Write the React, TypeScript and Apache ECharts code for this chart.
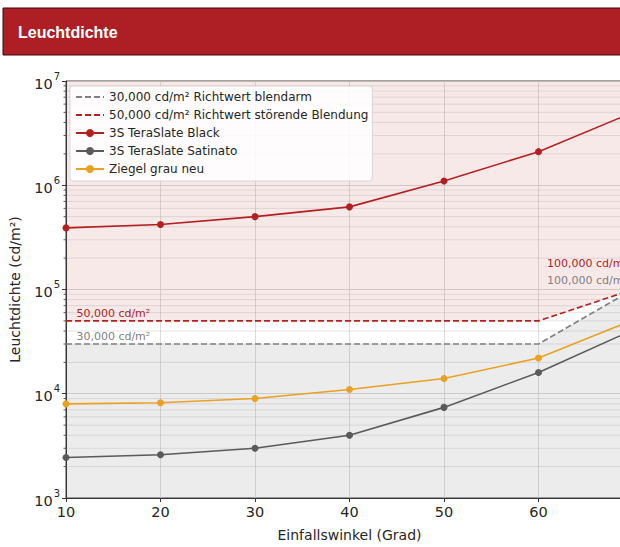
import React, { useEffect, useRef } from "react";
import * as echarts from "echarts";

const angles = [10, 20, 30, 40, 50, 60, 70];
const blackValues = [390000, 420000, 500000, 620000, 1100000, 2100000, 5000000];
const satinatoValues = [2450, 2600, 3000, 4000, 7400, 16000, 41000];
const ziegelValues = [8000, 8200, 9000, 11000, 14000, 22000, 51000];

const limitAngles = [10, 60, 70];
const blendarmValues = [30000, 30000, 100000];
const stoerendValues = [50000, 50000, 100000];

const seriesNames = [
  "30,000 cd/m² Richtwert blendarm",
  "50,000 cd/m² Richtwert störende Blendung",
  "3S TeraSlate Black",
  "3S TeraSlate Satinato",
  "Ziegel grau neu",
];

const xTicks = [10, 20, 30, 40, 50, 60, 70];
const yMin = 1000;
const yMax = 10000000;
const minorMultipliers = [2, 3, 4, 5, 6, 7, 8, 9];
const decades = [1000, 10000, 100000, 1000000];

const annotationTexts = ["50,000 cd/m²", "30,000 cd/m²", "100,000 cd/m²", "100,000 cd/m²"];
const annotationX = [11.1, 11.1, 60.9, 60.9];
const annotationY = [59500, 35200, 176000, 122000];

const RED = "#b3201f";
const GREY_DASH = "#808080";
const GREY_LINE = "#5a5a5a";
const ORANGE = "#eaa020";
const TEXT = "#262626";
const FONT = "DejaVu Sans";

export default function App() {
  const ref = useRef<HTMLDivElement>(null);

  useEffect(() => {
    if (!ref.current) return;
    const chart = echarts.init(ref.current, undefined, { renderer: "svg" });

    const minorValues: number[] = [];
    decades.forEach((d) => minorMultipliers.forEach((m) => minorValues.push(d * m)));

    const pinkPoly: number[][] = limitAngles.map((a, i) => [a, stoerendValues[i]]);
    pinkPoly.push([limitAngles[limitAngles.length - 1], yMax], [limitAngles[0], yMax]);
    const greyPoly: number[][] = [[limitAngles[0], yMin]].concat(
      limitAngles.map((a, i) => [a, blendarmValues[i]])
    );
    greyPoly.push([limitAngles[limitAngles.length - 1], yMin]);
    const polys = [pinkPoly, greyPoly];
    const polyColors = ["rgba(190,40,40,0.10)", "rgba(128,128,128,0.15)"];
    const annColors = [RED, "#808080", RED, "#808080"];

    const hiddenSymbol = { color: "rgba(0,0,0,0)", borderColor: "rgba(0,0,0,0)", borderWidth: 0 };

    const option: any = {
      animation: false,
      textStyle: { fontFamily: FONT },
      graphic: [
        {
          type: "rect",
          shape: { x: 3, y: 8, width: 660, height: 47 },
          style: { fill: "#ad1f24", stroke: "#3c0b0c", lineWidth: 1 },
          z: 10,
        },
        {
          type: "text",
          x: 18,
          y: 32,
          style: {
            text: "Leuchtdichte",
            fill: "#ffffff",
            font: "bold 16px 'Liberation Sans', Arial, sans-serif",
            verticalAlign: "middle",
          },
          z: 11,
        },
      ],
      grid: {
        left: 62,
        right: 7,
        top: 81,
        bottom: 42,
        show: true,
        borderColor: "#444",
        borderWidth: 1,
        backgroundColor: "transparent",
      },
      legend: {
        orient: "vertical",
        left: 70,
        top: 86,
        data: [
          { name: seriesNames[0], itemStyle: hiddenSymbol },
          { name: seriesNames[1], itemStyle: hiddenSymbol },
          { name: seriesNames[2] },
          { name: seriesNames[3] },
          { name: seriesNames[4] },
        ],
        backgroundColor: "rgba(255,255,255,0.85)",
        borderColor: "#d6d6d6",
        borderWidth: 1,
        borderRadius: 3,
        padding: [5, 4, 6, 5],
        itemWidth: 28,
        itemHeight: 10,
        itemGap: 6,
        textStyle: { fontFamily: FONT, fontSize: 12, color: TEXT },
      },
      xAxis: {
        type: "value",
        min: xTicks[0],
        max: xTicks[xTicks.length - 1],
        interval: 10,
        name: "Einfallswinkel (Grad)",
        nameLocation: "middle",
        nameGap: 30,
        nameTextStyle: { fontFamily: FONT, fontSize: 14, color: TEXT },
        axisLine: { show: true, lineStyle: { color: "#333", width: 1 } },
        axisTick: { show: true, inside: false, length: 4, lineStyle: { color: "#333" } },
        axisLabel: { fontFamily: FONT, fontSize: 14.5, color: TEXT, margin: 6, showMaxLabel: false },
        splitLine: { show: true, lineStyle: { color: "#d4d4d4", width: 0.8 } },
      },
      yAxis: {
        type: "log",
        logBase: 10,
        min: yMin,
        max: yMax,
        name: "Leuchtdichte (cd/m²)",
        nameLocation: "middle",
        nameGap: 44,
        nameRotate: 90,
        nameTextStyle: { fontFamily: FONT, fontSize: 14, color: TEXT },
        axisLine: { show: true, lineStyle: { color: "#333", width: 1 } },
        axisTick: { show: true, inside: false, length: 4, lineStyle: { color: "#333" } },
        axisLabel: {
          margin: 6,
          color: TEXT,
          formatter: (v: number) => "{b|10}{s|" + Math.round(Math.log10(v)) + "}",
          rich: {
            b: { fontFamily: FONT, fontSize: 14.5, color: TEXT, verticalAlign: "bottom", lineHeight: 20 },
            s: {
              fontFamily: FONT,
              fontSize: 10,
              color: TEXT,
              verticalAlign: "top",
              lineHeight: 20,
              padding: [0, 0, 10, 1],
            },
          },
        },
        splitLine: { show: true, lineStyle: { color: "#cfcfcf", width: 0.8 } },
      },
      series: [
        {
          type: "custom",
          name: "shading",
          silent: true,
          z: 0,
          clip: true,
          data: polys.map((_, i) => [i]),
          renderItem: (params: any, api: any) => {
            const i = params.dataIndex;
            const pts = polys[i].map((p) => api.coord(p));
            return {
              type: "polygon",
              shape: { points: pts },
              style: { fill: polyColors[i], stroke: "none" },
            };
          },
        },
        {
          type: "custom",
          name: "minorgrid",
          silent: true,
          z: 1,
          clip: false,
          data: minorValues.map((v) => [v]),
          renderItem: (params: any, api: any) => {
            const v = minorValues[params.dataIndex];
            const p0 = api.coord([xTicks[0], v]);
            const p1 = api.coord([xTicks[xTicks.length - 1], v]);
            return {
              type: "group",
              children: [
                {
                  type: "line",
                  shape: { x1: p0[0], y1: p0[1], x2: p1[0], y2: p1[1] },
                  style: { stroke: "rgba(160,160,160,0.35)", lineWidth: 0.8 },
                },
                {
                  type: "line",
                  shape: { x1: p0[0] - 2.5, y1: p0[1], x2: p0[0], y2: p0[1] },
                  style: { stroke: "#333", lineWidth: 0.8 },
                },
              ],
            };
          },
        },
        {
          type: "line",
          name: seriesNames[0],
          data: limitAngles.map((a, i) => [a, blendarmValues[i]]),
          symbol: "none",
          z: 3,
          color: GREY_DASH,
          lineStyle: { color: GREY_DASH, width: 1.6, type: [6, 3] },
        },
        {
          type: "line",
          name: seriesNames[1],
          data: limitAngles.map((a, i) => [a, stoerendValues[i]]),
          symbol: "none",
          z: 3,
          color: RED,
          lineStyle: { color: RED, width: 1.6, type: [6, 3] },
        },
        {
          type: "line",
          name: seriesNames[2],
          data: angles.map((a, i) => [a, blackValues[i]]),
          symbol: "circle",
          symbolSize: 7,
          z: 4,
          color: RED,
          lineStyle: { color: RED, width: 1.6 },
          itemStyle: { color: RED },
        },
        {
          type: "line",
          name: seriesNames[3],
          data: angles.map((a, i) => [a, satinatoValues[i]]),
          symbol: "circle",
          symbolSize: 7,
          z: 4,
          color: GREY_LINE,
          lineStyle: { color: GREY_LINE, width: 1.6 },
          itemStyle: { color: GREY_LINE },
        },
        {
          type: "line",
          name: seriesNames[4],
          data: angles.map((a, i) => [a, ziegelValues[i]]),
          symbol: "circle",
          symbolSize: 7,
          z: 4,
          color: ORANGE,
          lineStyle: { color: ORANGE, width: 1.6 },
          itemStyle: { color: ORANGE },
        },
        {
          type: "custom",
          name: "annotations",
          silent: true,
          z: 5,
          clip: false,
          data: annotationTexts.map((_, i) => [annotationX[i], annotationY[i]]),
          renderItem: (params: any, api: any) => {
            const i = params.dataIndex;
            const p = api.coord([annotationX[i], annotationY[i]]);
            return {
              type: "text",
              x: p[0],
              y: p[1],
              style: {
                text: annotationTexts[i],
                fill: annColors[i],
                font: "11px 'DejaVu Sans'",
                verticalAlign: "middle",
                align: "left",
              },
            };
          },
        },
      ],
    };

    chart.setOption(option);
    return () => chart.dispose();
  }, []);

  return (
    <div
      ref={ref}
      style={{ position: "fixed", left: 0, top: 0, width: 640, height: 547, background: "#ffffff" }}
    />
  );
}
